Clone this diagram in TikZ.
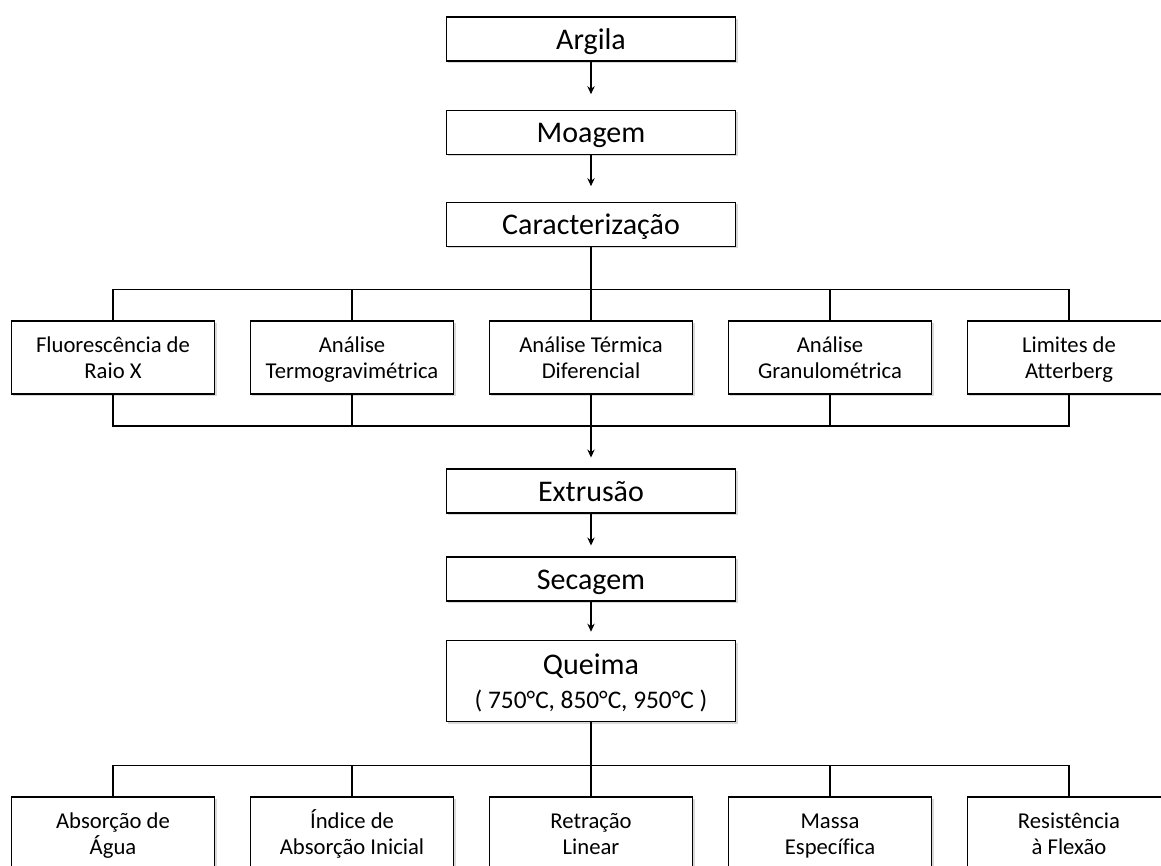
\documentclass[tikz,border=0pt]{standalone}
\usepackage{fontspec}
\setmainfont{Carlito}[Ligatures=NoCommon]
\usetikzlibrary{positioning,arrows.meta,shadows}

\begin{document}
\begin{tikzpicture}[%
    >={Stealth[length=6pt,width=5.5pt]},
    node distance=179.25pt,
    on grid,
    line width=1.2pt,
    caixa/.style={draw, fill=white, inner sep=0pt, align=center,
      drop shadow={opacity=0.3, shadow xshift=1.5pt, shadow yshift=-1.5pt}},
    etapa/.style={caixa, minimum width=217pt, minimum height=33pt,
      font=\fontsize{22.5}{25.5}\selectfont,
      text height=17pt, text depth=1.2pt},
    ensaio/.style={caixa, minimum width=152.5pt, minimum height=54.75pt,
      font=\fontsize{17}{20}\selectfont,
      text height=33pt, text depth=1.2pt},
    seta/.style={->, shorten >=8pt}
  ]
    \useasboundingbox (0,0) rectangle (870.75pt,-649.5pt);

    % etapas iniciais
    \node[etapa] (arg) at (443.25pt,-29.25pt) {Argila};
    \node[etapa] (moa) [below=70pt of arg] {Moagem};
    \node[etapa] (car) [below=69pt of moa] {Caracterização};

    % ensaios de caracterizacao
    \node[ensaio] (atd) [below=100pt of car] {Análise Térmica\\Diferencial};
    \node[ensaio] (atg) [left=of atd]  {Análise\\Termogravimétrica};
    \node[ensaio] (frx) [left=of atg]  {Fluorescência de\\Raio X};
    \node[ensaio] (agr) [right=of atd] {Análise\\Granulométrica};
    \node[ensaio] (lat) [right=of agr] {Limites de\\Atterberg};

    % processamento
    \node[etapa] (ext) [below=100pt of atd] {Extrusão};
    \node[etapa] (sec) [below=66pt of ext]  {Secagem};
    \node[etapa, minimum height=60.75pt, text height=43pt, text depth=1.3pt]
      (que) [below=76.5pt of sec]
      {Queima\\{\fontsize{19}{25.5}\selectfont ( 750°C, 850°C, 950°C )}};

    % ensaios tecnologicos
    \node[ensaio] (ret) [below=114.5pt of que] {Retração\\Linear};
    \node[ensaio] (iai) [left=of ret]  {Índice de\\Absorção Inicial};
    \node[ensaio] (aab) [left=of iai]  {Absorção de\\Água};
    \node[ensaio] (mes) [right=of ret] {Massa\\Específica};
    \node[ensaio] (res) [right=of mes] {Resistência\\à Flexão};

    \coordinate (b1) at ([yshift=23.25pt]atd.north);
    \coordinate (b2) at ([yshift=-23.25pt]atd.south);
    \coordinate (b3) at ([yshift=23.25pt]ret.north);

    \draw[seta, shorten >=11.5pt] (arg) -- (moa);
    \draw[seta, shorten >=11.5pt] (moa) -- (car);
    \draw (car) -- (atd);
    \draw (frx.north) |- (b1) -| (lat.north);
    \draw (atg.north) -- (atg.north |- b1);
    \draw (agr.north) -- (agr.north |- b1);
    \draw (frx.south) |- (b2) -| (lat.south);
    \draw (atg.south) -- (atg.south |- b2);
    \draw (agr.south) -- (agr.south |- b2);
    \draw[seta] (atd) -- (ext);
    \draw[seta] (ext) -- (sec);
    \draw[seta, shorten >=6pt] (sec) -- (que);
    \draw (que) -- (ret);
    \draw (aab.north) |- (b3) -| (res.north);
    \draw (iai.north) -- (iai.north |- b3);
    \draw (mes.north) -- (mes.north |- b3);
  \end{tikzpicture}
\end{document}
